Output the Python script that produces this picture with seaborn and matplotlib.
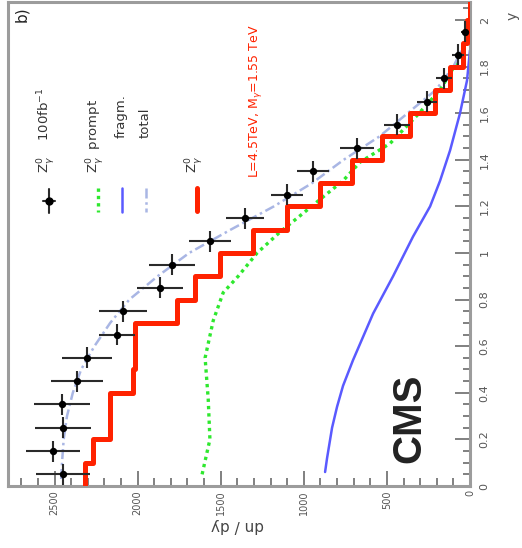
import matplotlib
matplotlib.use("Agg")
import matplotlib.pyplot as plt
import numpy as np
import pandas as pd
import seaborn as sns
from matplotlib.ticker import MultipleLocator, FixedLocator, FixedFormatter

# ---- data -------------------------------------------------------------
# pseudo-data, 100 fb^-1
rap_pts = [0.05, 0.15, 0.25, 0.35, 0.45, 0.55, 0.65, 0.75, 0.85, 0.95,
           1.05, 1.15, 1.25, 1.35, 1.45, 1.55, 1.65, 1.75, 1.85, 1.95]
dndy_pts = [2447, 2507, 2447, 2453, 2363, 2303, 2123, 2087, 1864, 1792,
            1563, 1353, 1100, 944, 680, 439, 259, 156, 72, 30]
dndy_err = [162, 162, 168, 168, 156, 150, 110, 145, 138, 140,
            126, 114, 96, 96, 100, 80, 60, 48, 36, 24]
rap_halfwidth = [0.045] * 20

# prompt component (green dotted)
rap_prompt = [0.05, 0.2, 0.37, 0.55, 0.71, 0.83, 0.9, 1.0, 1.09, 1.16,
              1.23, 1.31, 1.39, 1.47, 1.59, 1.7, 1.82, 1.91]
dndy_prompt = [1612, 1565, 1575, 1594, 1545, 1485, 1395, 1281, 1143, 1022,
               902, 764, 661, 481, 319, 180, 78, 12]

# fragmentation component (blue)
rap_frag = [0.06, 0.12, 0.25, 0.34, 0.43, 0.54, 0.74, 0.9, 1.07, 1.2,
            1.31, 1.44, 1.6, 1.74, 1.87]
dndy_frag = [872, 860, 830, 800, 764, 704, 583, 463, 343, 240,
             180, 120, 60, 18, 0]

# total (light blue dash-dot)
rap_total = [0.03, 0.1, 0.2, 0.3, 0.4, 0.5, 0.6, 0.7, 0.8, 0.9, 1.0,
             1.1, 1.2, 1.3, 1.4, 1.5, 1.6, 1.7, 1.8, 1.9, 2.0]
dndy_total = [2460, 2455, 2445, 2425, 2390, 2340, 2260, 2165, 2050, 1880, 1690,
              1440, 1180, 950, 760, 545, 375, 205, 100, 30, 5]

# signal histogram (red), bin edges and contents
rap_edges = [0.0, 0.1, 0.2, 0.3, 0.4, 0.5, 0.6, 0.7, 0.8, 0.9, 1.0,
             1.1, 1.2, 1.3, 1.4, 1.5, 1.6, 1.7, 1.8, 1.9, 2.0, 2.1]
dndy_hist = [2315, 2267, 2165, 2165, 2030, 2015, 2015, 1762, 1654, 1503,
             1305, 1100, 902, 710, 529, 361, 210, 120, 42, 18, 0]

value_ticks = [0, 500, 1000, 1500, 2000, 2500]
rap_ticks = [0, 0.2, 0.4, 0.6, 0.8, 1.0, 1.2, 1.4, 1.6, 1.8, 2.0]
rap_ticklabels = ["0", "0.2", "0.4", "0.6", "0.8", "1", "1.2", "1.4", "1.6", "1.8", "2"]

# ---- style ------------------------------------------------------------
sns.set_style("white")
plt.rcParams["font.family"] = ["DejaVu Sans"]

W, H = 522, 548
fig = plt.figure(figsize=(W / 100, H / 100), dpi=100)
ax = fig.add_axes([8 / W, 1 - 486 / H, (470 - 8) / W, (486 - 2) / H])


def fx(px):
    return px / W


def fy(py):
    return 1 - py / H


RED = "#ff2200"
GREEN = "#2ee82e"
BLUE = "#5a5aff"
LBLUE = "#a9b6e4"
SPINE = "#9c9c9c"

# histogram drawn as a vertical step line (rapidity runs upwards)
hist_df = pd.DataFrame({"dndy": dndy_hist + [dndy_hist[-1]], "rap": rap_edges})
sns.lineplot(data=hist_df, x="dndy", y="rap", sort=False, estimator=None,
             color=RED, lw=3.6, drawstyle="steps-pre", ax=ax, zorder=3)

sns.lineplot(x=dndy_prompt, y=rap_prompt, sort=False, estimator=None,
             color=GREEN, lw=2.4, linestyle=(0, (1, 1.2)), ax=ax, zorder=2)
sns.lineplot(x=dndy_frag, y=rap_frag, sort=False, estimator=None,
             color=BLUE, lw=1.8, ax=ax, zorder=2)
sns.lineplot(x=dndy_total, y=rap_total, sort=False, estimator=None,
             color=LBLUE, lw=1.8, linestyle=(0, (4, 1.5, 1, 1.5)), ax=ax, zorder=2)

ax.errorbar(dndy_pts, rap_pts, xerr=dndy_err, yerr=rap_halfwidth, fmt="none",
            ecolor="#2a2a2a", elinewidth=1.5, capsize=0, zorder=4)
sns.scatterplot(x=dndy_pts, y=rap_pts, color="black", s=28, marker="o",
                edgecolor="black", linewidth=0, ax=ax, zorder=5)

# ---- axes -------------------------------------------------------------
ax.set_xlim(2780, 0)
ax.set_ylim(0, 2.077)
ax.set_xlabel("")
ax.set_ylabel("")
for sp in ax.spines.values():
    sp.set_color(SPINE)
    sp.set_linewidth(2.2)

ax.xaxis.set_major_locator(FixedLocator(value_ticks))
ax.xaxis.set_minor_locator(MultipleLocator(100))
ax.yaxis.set_major_locator(FixedLocator(rap_ticks))
ax.yaxis.set_major_formatter(FixedFormatter(rap_ticklabels))
ax.yaxis.set_minor_locator(MultipleLocator(0.05))
ax.yaxis.tick_right()
ax.tick_params(axis="x", which="major", direction="in", length=11, width=1.4,
               color="#808080", labelsize=7, labelcolor="#555555",
               labelrotation=90, pad=3, bottom=True, top=False)
ax.tick_params(axis="x", which="minor", direction="in", length=5.5, width=1.4,
               color="#808080", bottom=True, top=False)
ax.tick_params(axis="y", which="major", direction="in", length=11, width=1.4,
               color="#808080", labelsize=8, labelcolor="#555555",
               labelrotation=90, pad=7, right=True, left=False)
ax.tick_params(axis="y", which="minor", direction="in", length=5, width=1.4,
               color="#808080", right=True, left=False)
for lab in ax.get_yticklabels():
    lab.set_verticalalignment("center")

# ---- texts ------------------------------------------------------------
fig.text(fx(238), fy(525), "dn / dy", rotation=180, ha="center", va="center",
         fontsize=11, color="#444444")
fig.text(fx(513), fy(16), "y", rotation=90, ha="center", va="center",
         fontsize=10, color="#555555")
fig.text(fx(22), fy(14), "b)", rotation=90, ha="center", va="center",
         fontsize=11, color="#222222")
fig.text(fx(409), fy(418), "CMS", rotation=90, ha="center", va="center",
         fontsize=29, fontweight="bold", family=["Liberation Sans", "DejaVu Sans"],
         color="#222222")
fig.text(fx(255), fy(178), "L=4.5TeV, M$_{\\gamma}$=1.55 TeV", rotation=90,
         ha="center", va="bottom", fontsize=9, color=RED)

# ---- legend (rotated with the plot) -----------------------------------
def vseg(x, y0, y1, **kw):
    fig.add_artist(plt.Line2D([fx(x), fx(x)], [fy(y0), fy(y1)],
                              transform=fig.transFigure, **kw))


vseg(49, 189, 213, color="#2a2a2a", lw=1.5)
fig.add_artist(plt.Line2D([fx(43), fx(55)], [fy(201), fy(201)],
                          transform=fig.transFigure, color="#2a2a2a", lw=1.5))
fig.add_artist(plt.Line2D([fx(49)], [fy(201)], transform=fig.transFigure,
                          marker="o", ms=5, color="black"))
vseg(98, 188, 212, color=GREEN, lw=2.4, linestyle=(0, (1, 1.2)))
vseg(122, 188, 212, color=BLUE, lw=1.8)
vseg(146, 188, 212, color=LBLUE, lw=1.8, linestyle=(0, (4, 1.5, 1, 1.5)))
vseg(197, 188, 211, color=RED, lw=3.6)

leg_kw = dict(rotation=90, ha="center", va="bottom", fontsize=9.5, color="#333333")
fig.text(fx(46), fy(173), "Z$^0_\\gamma$    100fb$^{-1}$", **leg_kw)
fig.text(fx(95), fy(173), "Z$^0_\\gamma$  prompt", **leg_kw)
fig.text(fx(121), fy(138), "fragm.", **leg_kw)
fig.text(fx(145), fy(138), "total", **leg_kw)
fig.text(fx(194), fy(173), "Z$^0_\\gamma$", **leg_kw)

fig.savefig("out.png", dpi=100)
